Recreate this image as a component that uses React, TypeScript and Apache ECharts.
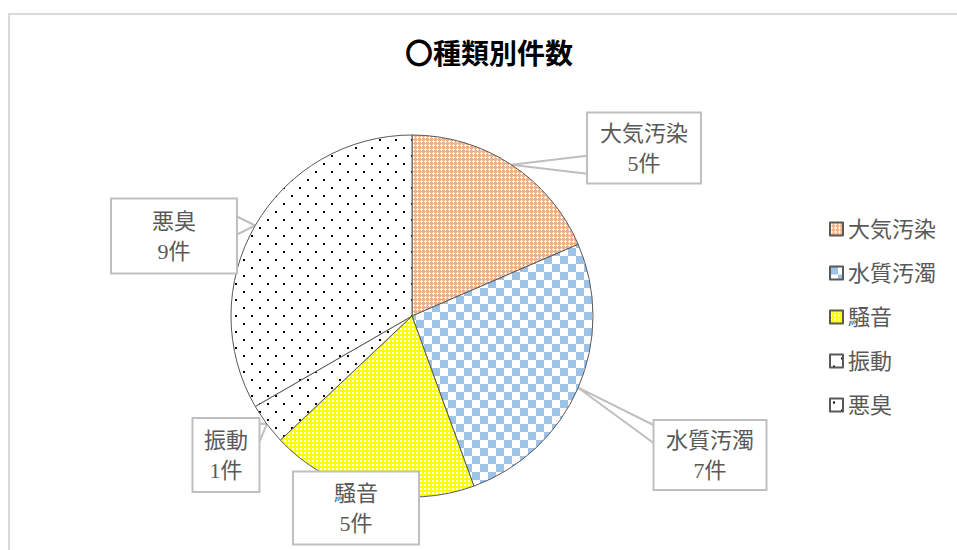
import React, { useEffect, useRef } from 'react';
import * as echarts from 'echarts';

// ---- data ----
const categories = ['大気汚染', '水質汚濁', '騒音', '振動', '悪臭'];
const counts = [5, 7, 5, 1, 9];
const unit = '件';
const titleText = '〇種類別件数';

// ---- callout layout (center x, center y) and outer box size (w, h) ----
const labelCenters = [[644, 148], [710, 455], [356, 508], [226, 455], [174, 236]];
const labelBoxSizes = [[114, 71], [113, 70], [126, 73], [67, 74], [126, 75]];

const FONT = "'Liberation Serif', 'Noto Sans CJK JP', serif";

function makeTile(size: number, draw: (ctx: CanvasRenderingContext2D) => void) {
  const c = document.createElement('canvas');
  c.width = size;
  c.height = size;
  const ctx = c.getContext('2d') as CanvasRenderingContext2D;
  draw(ctx);
  return { image: c, repeat: 'repeat', imageWidth: size, imageHeight: size };
}

function makePatterns() {
  const orange = makeTile(4, (ctx) => {
    ctx.fillStyle = '#F4B183';
    ctx.fillRect(0, 0, 4, 4);
    ctx.fillStyle = '#ffffff';
    ctx.fillRect(1, 0, 1, 3);
    ctx.fillRect(0, 1, 3, 1);
  });
  const blue = makeTile(16, (ctx) => {
    ctx.fillStyle = '#ffffff';
    ctx.fillRect(0, 0, 16, 16);
    ctx.fillStyle = '#9DC3E6';
    ctx.fillRect(0, 0, 8, 8);
    ctx.fillRect(8, 8, 8, 8);
  });
  const yellow = makeTile(4, (ctx) => {
    ctx.fillStyle = '#FFFF00';
    ctx.fillRect(0, 0, 4, 4);
    ctx.fillStyle = '#ffffff';
    ctx.fillRect(0, 0, 2, 2);
  });
  const sparse = makeTile(16, (ctx) => {
    ctx.fillStyle = '#ffffff';
    ctx.fillRect(0, 0, 16, 16);
    ctx.fillStyle = '#000000';
    ctx.fillRect(3, 11, 2, 2);
    ctx.fillRect(11, 3, 2, 2);
  });
  const dots = makeTile(16, (ctx) => {
    ctx.fillStyle = '#ffffff';
    ctx.fillRect(0, 0, 16, 16);
    ctx.fillStyle = '#000000';
    ctx.fillRect(3, 3, 2, 2);
    ctx.fillRect(11, 11, 2, 2);
  });
  return [orange, blue, yellow, sparse, dots];
}

function wedge(tx: number, ty: number, cx: number, cy: number, hw: number, hh: number) {
  const dx = tx - cx;
  const dy = ty - cy;
  const ox = Math.abs(dx) - hw;
  const oy = Math.abs(dy) - hh;
  if (ox <= 0 && oy <= 0) return [[tx, ty], [tx, ty]];
  const half = 9;
  const clamp = (v: number, a: number, b: number) => Math.max(a, Math.min(b, v));
  if (ox > oy) {
    const sx = cx + Math.sign(dx) * hw;
    const m = hh * 0.4;
    const c = clamp(ty, cy - hh + m, cy + hh - m);
    return [[sx, c - half], [tx, ty], [sx, c + half]];
  }
  const sy = cy + Math.sign(dy) * hh;
  const m = hw * 0.4;
  const c = clamp(tx, cx - hw + m, cx + hw - m);
  return [[c - half, sy], [tx, ty], [c + half, sy]];
}

export default function App() {
  const ref = useRef<HTMLDivElement>(null);
  useEffect(() => {
    if (!ref.current) return;
    const chart = echarts.init(ref.current, null, { renderer: 'svg' });
    const patterns = makePatterns();
    const option: any = {
      animation: false,
      backgroundColor: '#ffffff',
      title: {
        text: titleText,
        left: 400,
        top: 33,
        textStyle: { fontFamily: "'Noto Sans CJK JP'", fontSize: 28, fontWeight: 'bold', color: '#000000' },
      },
      legend: {
        orient: 'vertical',
        left: 824,
        top: 213,
        itemWidth: 13,
        itemHeight: 13,
        itemGap: 22,
        icon: 'rect',
        selectedMode: false,
        data: categories,
        textStyle: { fontFamily: FONT, fontSize: 22, color: '#595959' },
      },
      graphic: [
        {
          type: 'rect',
          x: 9,
          y: 14,
          silent: true,
          z: -1,
          shape: { x: 0, y: 0, width: 1000, height: 700 },
          style: { fill: 'none', stroke: '#d9d9d9', lineWidth: 2 },
        },
      ],
      series: [
        {
          type: 'pie',
          center: [412, 316],
          radius: 181,
          startAngle: 90,
          clockwise: true,
          avoidLabelOverlap: false,
          silent: true,
          emphasis: { disabled: true },
          itemStyle: { borderColor: '#595959', borderWidth: 1 },
          label: {
            show: true,
            position: 'outside',
            formatter: (p: any) => `${p.name}\n${p.value}${unit}`,
            fontFamily: FONT,
            fontSize: 22,
            lineHeight: 30,
            color: '#595959',
            backgroundColor: '#ffffff',
            borderColor: '#bfbfbf',
            borderWidth: 2,
            align: 'center',
          },
          labelLine: {
            show: true,
            length: 10,
            length2: 10,
            smooth: false,
            lineStyle: { color: '#bfbfbf', width: 2 },
          },
          labelLayout: (params: any) => {
            const i = params.dataIndex;
            const [cx, cy] = labelCenters[i];
            const [w, h] = labelBoxSizes[i];
            const tip = params.labelLinePoints ? params.labelLinePoints[0] : [cx, cy];
            return {
              x: cx,
              y: cy,
              align: 'center',
              verticalAlign: 'middle',
              labelLinePoints: wedge(tip[0], tip[1], cx, cy, w / 2, h / 2),
            };
          },
          data: categories.map((name, i) => ({
            name,
            value: counts[i],
            itemStyle: { color: patterns[i] },
            label: {
              width: labelBoxSizes[i][0] - 2,
              padding: [(labelBoxSizes[i][1] - 62) / 2, 0],
            },
          })),
        },
      ],
    };
    chart.setOption(option);
    return () => chart.dispose();
  }, []);
  return (
    <div
      ref={ref}
      style={{ position: 'absolute', left: 0, top: 0, width: 957, height: 550 }}
    />
  );
}
